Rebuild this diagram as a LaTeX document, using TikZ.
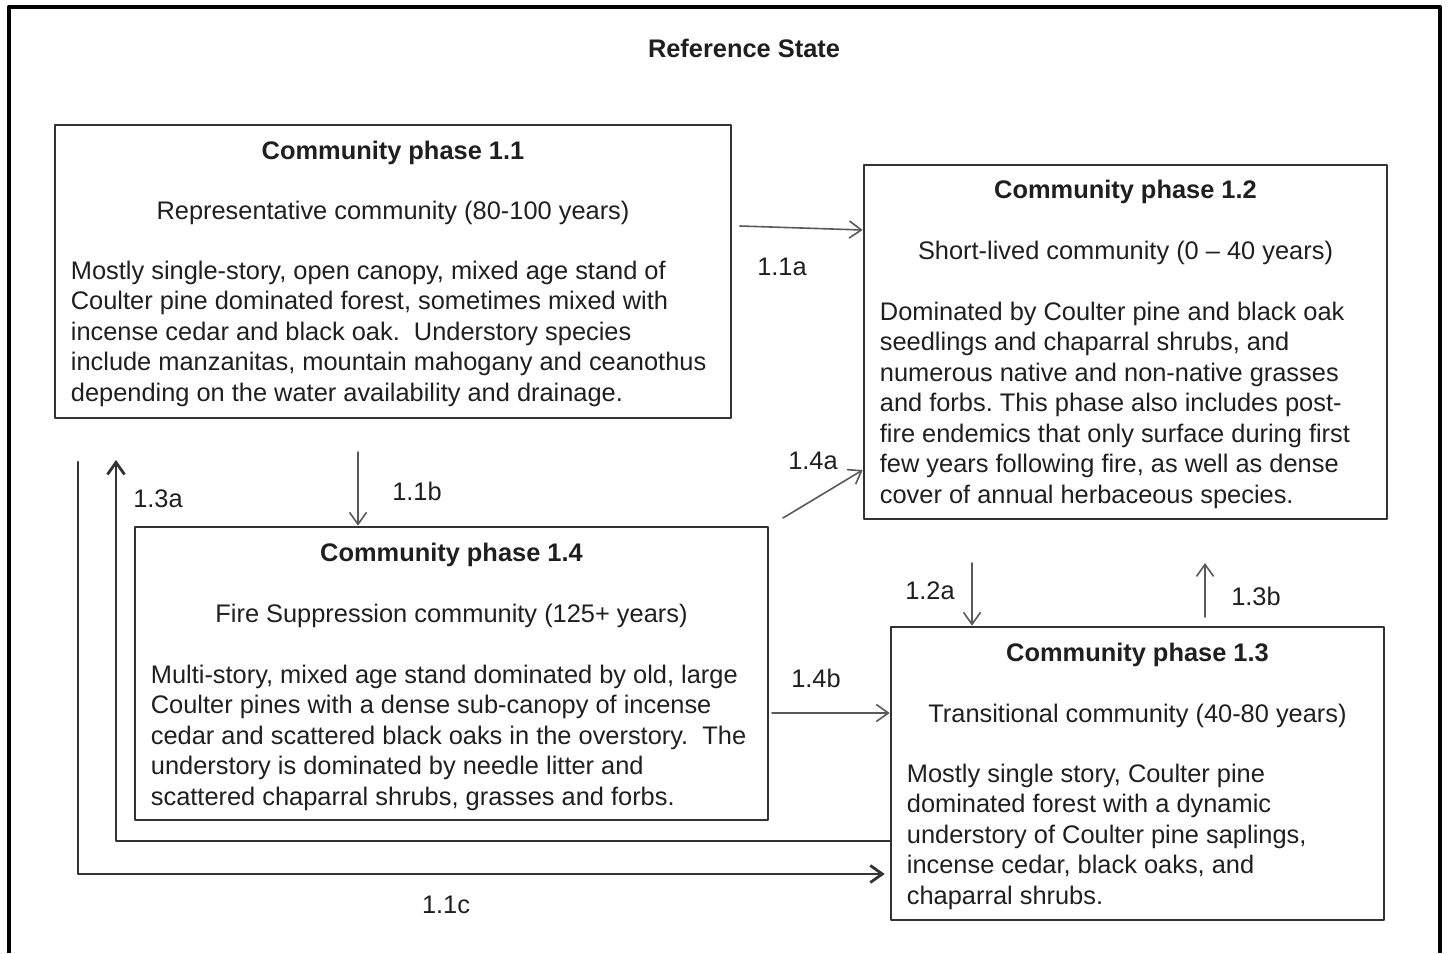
\documentclass[tikz,border=0pt]{standalone}
\usepackage{fontspec}
\setmainfont{Liberation Sans}
\usetikzlibrary{arrows.meta}
\frenchspacing
\begin{document}
\begin{tikzpicture}[x=1pt, y=-1pt, line join=round, line cap=round, >={Straight Barb[length=12pt,width=17pt]}, font=\fontsize{25.4}{30.5}\selectfont]
	\tikzset{every node/.style={inner sep=0pt, text=black!88},
		phase/.style={draw=black!80, line width=2.6pt},
		head/.style={font=\fontsize{25.4}{30.5}\selectfont\bfseries, anchor=base},
		sub/.style={anchor=base},
		body/.style={align=left, anchor=base west, xshift=17pt},
		flow/.style={draw=black!65, line width=1.6pt},
		loopline/.style={draw=black!80, line width=2.8pt},
		tag/.style={}}
	\useasboundingbox (0,0) rectangle (1448,953);
	%outer frame
	\draw[line width=4pt, line cap=butt] (9,953) -- (9,6.5) -- (1439.5,6.5) -- (1439.5,953);
	\node[head] (title) at (744,57) {Reference State};
	%boxes
	\node[phase, minimum width=676, minimum height=293] (p11) at (393,271.5) {};
	\node[phase, minimum width=523, minimum height=354] (p12) at (1125.5,342) {};
	\node[phase, minimum width=633, minimum height=293] (p14) at (451.5,673.5) {};
	\node[phase, minimum width=493, minimum height=293] (p13) at (1137.5,773.5) {};
	%phase 1.1 (body placed by its last line)
	\node[head] (h11) at (p11 |- 0,159) {Community phase 1.1};
	\node[sub] (s11) at (p11 |- 0,219) {Representative community (80-100 years)};
	\node[body] (b11) at (p11.west |- 0,401) {Mostly single-story, open canopy, mixed age stand of\\
		Coulter pine dominated forest, sometimes mixed with\\
		incense cedar and black oak.\ \ Understory species\\
		include manzanitas, mountain mahogany and ceanothus\\
		depending on the water availability and drainage.};
	%phase 1.2
	\node[head] (h12) at (p12 |- 0,198) {Community phase 1.2};
	\node[sub] (s12) at (p12 |- 0,259) {Short-lived community (0 -- 40 years)};
	\node[body] (b12) at (p12.west |- 0,503) {Dominated by Coulter pine and black oak\\
		seedlings and chaparral shrubs, and\\
		numerous native and non-native grasses\\
		and forbs. This phase also includes post-\\
		fire endemics that only surface during first\\
		few years following fire, as well as dense\\
		cover of annual herbaceous species.};
	%phase 1.4
	\node[head] (h14) at (p14 |- 0,561) {Community phase 1.4};
	\node[sub] (s14) at (p14 |- 0,622) {Fire Suppression community (125+ years)};
	\node[body] (b14) at (p14.west |- 0,805) {Multi-story, mixed age stand dominated by old, large\\
		Coulter pines with a dense sub-canopy of incense\\
		cedar and scattered black oaks in the overstory.\ \ The\\
		understory is dominated by needle litter and\\
		scattered chaparral shrubs, grasses and forbs.};
	%phase 1.3
	\node[head] (h13) at (p13 |- 0,661) {Community phase 1.3};
	\node[sub] (s13) at (p13 |- 0,722) {Transitional community (40-80 years)};
	\node[body] (b13) at (p13.west |- 0,904) {Mostly single story, Coulter pine\\
		dominated forest with a dynamic\\
		understory of Coulter pine saplings,\\
		incense cedar, black oaks, and\\
		chaparral shrubs.};
	%arrows
	\coordinate (a11a) at (740,226);
	\coordinate (a11b) at (358,452);
	\coordinate (a14a) at (783,518);
	\coordinate (a14b) at (772,713);
	\coordinate (a12a) at (972,563);
	\coordinate (a13b) at (1205,617);
	\coordinate (e13b) at (1205,563);
	\coordinate (c13a) at (116,460);
	\coordinate (c11c) at (78,462);
	\draw[flow,->] (a11a) -- (p12.west |- 0,230);
	\draw[flow,->] (a11b) -- (a11b |- p14.north);
	\draw[flow,->] (a14a) -- (p12.west |- 0,470);
	\draw[flow,->] (a14b) -- (p13.west |- a14b);
	\draw[flow,->] (a12a) -- (a12a |- p13.north);
	\draw[flow,->] (a13b) -- (e13b);
	\draw[loopline,->] (p13.west |- 0,841) -| (c13a);
	\draw[loopline,->] (c11c) |- ([xshift=-5pt]p13.west |- 0,874);
	%labels
	\node[tag] (l11a) at (782,267) {1.1a};
	\node[tag] (l11b) at (417,491) {1.1b};
	\node[tag] (l14a) at (813,461) {1.4a};
	\node[tag] (l14b) at (816,678) {1.4b};
	\node[tag] (l12a) at (930,591) {1.2a};
	\node[tag] (l13b) at (1256,596) {1.3b};
	\node[tag] (l13a) at (158,499) {1.3a};
	\node[tag] (l11c) at (446,905) {1.1c};
\end{tikzpicture}
\end{document}
